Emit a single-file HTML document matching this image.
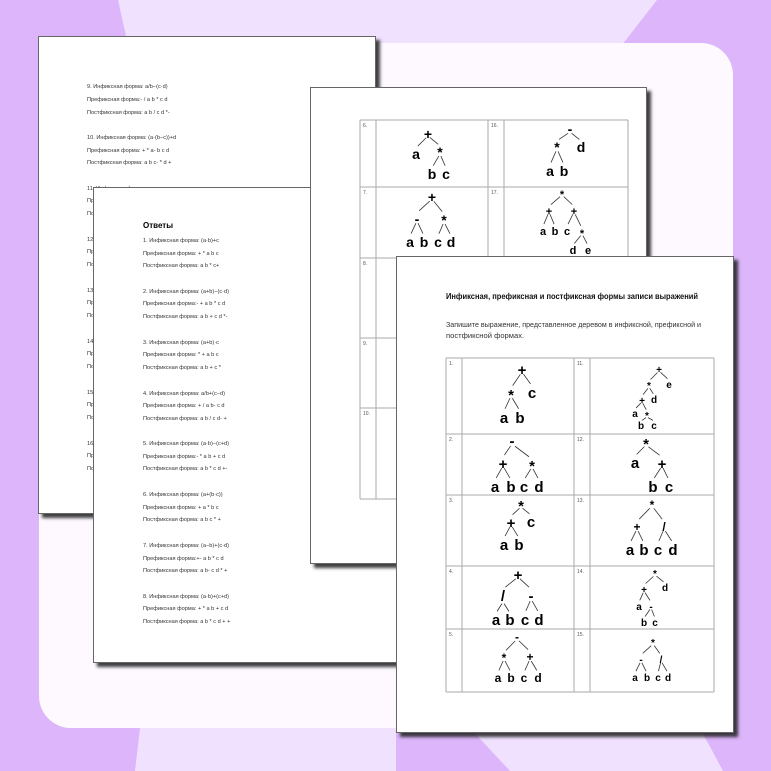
<!DOCTYPE html>
<html><head><meta charset="utf-8">
<style>
html,body{margin:0;padding:0}
body{width:771px;height:771px;position:relative;overflow:hidden;background:#dcb5fa;font-family:"Liberation Sans",sans-serif}
.pg{position:absolute;background:#fff;overflow:hidden;box-shadow:4px 4px 3px rgba(30,30,30,.85);border:1px solid #666;box-sizing:border-box}
.pg svg{position:absolute}
text{font-family:"Liberation Sans",sans-serif}
.s{font-size:5.6px;fill:#333}
.n{font-size:5px;fill:#555}
.t{font-weight:bold;fill:#000;text-anchor:middle}
.g line{stroke:#aaa;stroke-width:1}
.e line{stroke:#333;stroke-width:.8}
</style></head><body>
<svg width="771" height="771" style="position:absolute;left:0;top:0">
<polygon points="118,0 657,0 622,45 128,45" fill="#f0e1ff"/>
<rect x="39" y="43" width="694" height="685" rx="32" fill="#fdf9ff"/>
<polygon points="140,728 396,728 396,771 135,771" fill="#f0e1ff"/>
<polygon points="470,728 700,728 723,771 510,771" fill="#f0e1ff"/>
</svg>

<!-- Page A -->
<div class="pg" style="left:38px;top:36px;width:338px;height:478px">
<svg width="771" height="771" style="left:-38px;top:-36px">
<g class="s">
<text x="86" y="87">9. Инфиксная форма: a/b−(c·d)</text>
<text x="86" y="100">Префиксная форма:- / a b * c d</text>
<text x="86" y="113">Постфиксная форма: a b / c d *-</text>
<text x="86" y="138">10. Инфиксная форма: (a·(b−c))+d</text>
<text x="86" y="151">Префиксная форма: + * a- b c d</text>
<text x="86" y="163">Постфиксная форма: a b c- * d +</text>
<text x="86" y="189">11. Инфиксная форма</text><text x="86" y="201">Префиксная</text><text x="86" y="214">Постфиксная</text>
<text x="86" y="240">12. Инфиксная</text><text x="86" y="252">Префиксная</text><text x="86" y="265">Постфиксная</text>
<text x="86" y="291">13. Инфиксная</text><text x="86" y="303">Префиксная</text><text x="86" y="316">Постфиксная</text>
<text x="86" y="342">14. Инфиксная</text><text x="86" y="354">Префиксная</text><text x="86" y="367">Постфиксная</text>
<text x="86" y="393">15. Инфиксная</text><text x="86" y="405">Префиксная</text><text x="86" y="418">Постфиксная</text>
<text x="86" y="444">16. Инфиксная</text><text x="86" y="456">Префиксная</text><text x="86" y="469">Постфиксная</text>
</g></svg></div>

<!-- Page C -->
<div class="pg" style="left:93px;top:187px;width:330px;height:476px">
<svg width="771" height="771" style="left:-93px;top:-187px">
<text x="142" y="227" style="font-size:8px;font-weight:bold">Ответы</text>
<g class="s">
<text x="142" y="241">1. Инфиксная форма: (a·b)+c</text><text x="142" y="254">Префиксная форма: + * a b c</text><text x="142" y="266">Постфиксная форма: a b * c+</text>
<text x="142" y="292">2. Инфиксная форма: (a+b)−(c·d)</text><text x="142" y="304">Префиксная форма:- + a b * c d</text><text x="142" y="317">Постфиксная форма: a b + c d *-</text>
<text x="142" y="343">3. Инфиксная форма: (a+b)·c</text><text x="142" y="355">Префиксная форма: * + a b c</text><text x="142" y="368">Постфиксная форма: a b + c *</text>
<text x="142" y="394">4. Инфиксная форма: a/b+(c−d)</text><text x="142" y="406">Префиксная форма: + / a b- c d</text><text x="142" y="419">Постфиксная форма: a b / c d- +</text>
<text x="142" y="444">5. Инфиксная форма: (a·b)−(c+d)</text><text x="142" y="457">Префиксная форма:- * a b + c d</text><text x="142" y="469">Постфиксная форма: a b * c d +-</text>
<text x="142" y="495">6. Инфиксная форма: (a+(b·c))</text><text x="142" y="508">Префиксная форма: + a * b c</text><text x="142" y="520">Постфиксная форма: a b c * +</text>
<text x="142" y="546">7. Инфиксная форма: (a−b)+(c·d)</text><text x="142" y="559">Префиксная форма:+- a b * c d</text><text x="142" y="571">Постфиксная форма: a b- c d * +</text>
<text x="142" y="597">8. Инфиксная форма: (a·b)+(c+d)</text><text x="142" y="609">Префиксная форма: + * a b + c d</text><text x="142" y="622">Постфиксная форма: a b * c d + +</text>
</g></svg></div>

<!-- Page B -->
<div class="pg" style="left:310px;top:87px;width:337px;height:477px">
<svg width="771" height="771" style="left:-310px;top:-87px">
<g class="g">
<line x1="359" y1="119" x2="627" y2="119"/><line x1="359" y1="186" x2="627" y2="186"/><line x1="359" y1="257" x2="627" y2="257"/>
<line x1="359" y1="337" x2="627" y2="337"/><line x1="359" y1="407" x2="627" y2="407"/><line x1="359" y1="498" x2="627" y2="498"/>
<line x1="359" y1="119" x2="359" y2="498"/><line x1="375" y1="119" x2="375" y2="498"/><line x1="487" y1="119" x2="487" y2="498"/><line x1="503" y1="119" x2="503" y2="498"/><line x1="627" y1="119" x2="627" y2="498"/>
</g>
<g class="n"><text x="362" y="126">6.</text><text x="490" y="126">16.</text><text x="362" y="193">7.</text><text x="490" y="193">17.</text><text x="362" y="264">8.</text><text x="362" y="344">9.</text><text x="362" y="414">10.</text></g>
<g class="t" style="font-size:14px">
<text x="427" y="138">+</text><text x="415" y="158">a</text><text x="439" y="156">*</text><text x="431" y="178">b</text><text x="445" y="178">c</text>
<text x="569" y="133">-</text><text x="556" y="151">*</text><text x="580" y="151">d</text><text x="549" y="175">a</text><text x="563" y="175">b</text>
<text x="431" y="201">+</text><text x="416" y="223">-</text><text x="443" y="224">*</text><text x="409" y="246">a</text><text x="423" y="246">b</text><text x="437" y="246">c</text><text x="450" y="246">d</text>
</g>
<g class="t" style="font-size:11px">
<text x="561" y="197">*</text><text x="548" y="214">+</text><text x="573" y="214">+</text><text x="542" y="234">a</text><text x="554" y="234">b</text><text x="566" y="234">c</text><text x="581" y="236">*</text><text x="572" y="253">d</text><text x="587" y="253">e</text>
</g>
<g class="e" id="eB"></g>
</svg></div>

<!-- Page D -->
<div class="pg" style="left:396px;top:256px;width:338px;height:477px">
<svg width="771" height="771" style="left:-396px;top:-256px">
<text x="445" y="298" textLength="252" lengthAdjust="spacingAndGlyphs" style="font-size:8px;font-weight:bold;fill:#111">Инфиксная, префиксная и постфиксная формы записи выражений</text>
<text x="445" y="326" textLength="255" lengthAdjust="spacingAndGlyphs" style="font-size:7.6px;fill:#333">Запишите выражение, представленное деревом в инфиксной, префиксной и</text>
<text x="445" y="337" style="font-size:7.6px;fill:#333">постфиксной формах.</text>
<g class="g">
<line x1="445" y1="357" x2="713" y2="357"/><line x1="445" y1="433" x2="713" y2="433"/><line x1="445" y1="494" x2="713" y2="494"/>
<line x1="445" y1="565" x2="713" y2="565"/><line x1="445" y1="628" x2="713" y2="628"/><line x1="445" y1="691" x2="713" y2="691"/>
<line x1="445" y1="357" x2="445" y2="691"/><line x1="461" y1="357" x2="461" y2="691"/><line x1="573" y1="357" x2="573" y2="691"/><line x1="589" y1="357" x2="589" y2="691"/><line x1="713" y1="357" x2="713" y2="691"/>
</g>
<g class="n"><text x="448" y="364">1.</text><text x="576" y="364">11.</text><text x="448" y="440">2.</text><text x="576" y="440">12.</text><text x="448" y="501">3.</text><text x="576" y="501">13.</text><text x="448" y="572">4.</text><text x="576" y="572">14.</text><text x="448" y="635">5.</text><text x="576" y="635">15.</text></g>
<g class="t" style="font-size:15px">
<text x="521" y="374">+</text><text x="510" y="399">*</text><text x="531" y="397">c</text><text x="503" y="422">a</text><text x="519" y="422">b</text>
<text x="511" y="445">-</text><text x="502" y="468">+</text><text x="531" y="470">*</text><text x="494" y="491">a</text><text x="510" y="491">b</text><text x="523" y="491">c</text><text x="538" y="491">d</text>
<text x="645" y="448">*</text><text x="634" y="467">a</text><text x="661" y="468">+</text><text x="652" y="491">b</text><text x="668" y="491">c</text>
<text x="520" y="510">*</text><text x="510" y="527">+</text><text x="530" y="526">c</text><text x="503" y="549">a</text><text x="518" y="549">b</text>
<text x="517" y="579">+</text><text x="502" y="600">/</text><text x="530" y="600">-</text><text x="495" y="624">a</text><text x="509" y="624">b</text><text x="524" y="624">c</text><text x="538" y="624">d</text>
<text x="629" y="554">a</text><text x="643" y="554">b</text><text x="657" y="554">c</text><text x="672" y="554">d</text>
</g>
<g class="t" style="font-size:12px">
<text x="651" y="508">*</text><text x="636" y="530">+</text><text x="663" y="530">/</text>
<text x="516" y="640">-</text><text x="503" y="661">*</text><text x="529" y="660">+</text><text x="497" y="681">a</text><text x="510" y="681">b</text><text x="523" y="681">c</text><text x="537" y="681">d</text>
</g>
<g class="t" style="font-size:10px">
<text x="658" y="372">+</text><text x="648" y="388">*</text><text x="668" y="387">e</text><text x="641" y="403">+</text><text x="653" y="402">d</text><text x="634" y="416">a</text><text x="646" y="418">*</text><text x="640" y="428">b</text><text x="653" y="428">c</text>
<text x="654" y="576">*</text><text x="643" y="592">+</text><text x="664" y="590">d</text><text x="638" y="609">a</text><text x="650" y="609">-</text><text x="643" y="625">b</text><text x="654" y="625">c</text>
<text x="652" y="645">*</text><text x="640" y="662">-</text><text x="660" y="662">/</text><text x="634" y="680">a</text><text x="646" y="680">b</text><text x="657" y="680">c</text><text x="667" y="680">d</text>
</g>
<g class="e" id="eD"></g>
</svg></div>

<script>
function draw(id,E){var g=document.getElementById(id),s='';E.forEach(function(e){var px=e[0],py=e[1],cx=e[2],cy=e[3],f=e[4]||15;var ax=px,ay=py+1,bx=cx,by=cy-f*0.8;var x1=ax+(bx-ax)*0.15,y1=ay+(by-ay)*0.15,x2=ax+(bx-ax)*0.85,y2=ay+(by-ay)*0.85;s+='<line x1="'+x1+'" y1="'+y1+'" x2="'+x2+'" y2="'+y2+'"/>';});g.innerHTML=s;}
draw('eB',[[427,134,415,158,14],[427,134,439,156,14],[439,152,431,178,14],[439,152,445,178,14],
[569,130,556,151,14],[569,130,580,151,14],[556,147,549,175,14],[556,147,563,175,14],
[431,197,416,223,14],[431,197,443,224,14],[416,219,409,246,14],[416,219,423,246,14],[443,220,437,246,14],[443,220,450,246,14],
[561,193,548,214,11],[561,193,573,214,11],[548,210,542,234,11],[548,210,554,234,11],[573,210,566,234,11],[573,210,581,236,11],[581,232,572,253,11],[581,232,587,253,11]]);
draw('eD',[[521,370,510,399],[521,370,531,397],[510,394,503,422],[510,394,519,422],
[511,442,502,468],[511,442,531,470],[502,464,494,491],[502,464,510,491],[531,465,523,491],[531,465,538,491],
[645,443,634,467],[645,443,661,468],[661,464,652,491],[661,464,668,491],
[520,505,510,527],[520,505,530,526],[510,523,503,549],[510,523,518,549],
[517,575,502,600],[517,575,530,600],[502,600,495,624],[502,600,509,624],[530,597,524,624],[530,597,538,624],
[651,504,636,530,12],[651,504,663,530,12],[636,527,629,554],[636,527,643,554],[663,527,657,554],[663,527,672,554],
[516,637,503,661,12],[516,637,529,660,12],[503,657,497,681,12],[503,657,510,681,12],[529,657,523,681,12],[529,657,537,681,12],
[658,369,648,388,10],[658,369,668,387,10],[648,385,641,403,10],[648,385,653,402,10],[641,400,634,416,10],[641,400,646,418,10],[646,415,640,428,10],[646,415,653,428,10],
[654,573,643,592,10],[654,573,664,590,10],[643,589,638,609,10],[643,589,650,609,10],[650,606,643,625,10],[650,606,654,625,10],
[652,642,640,662,10],[652,642,660,662,10],[640,659,634,680,10],[640,659,646,680,10],[660,659,657,680,10],[660,659,667,680,10]]);
</script>
</body></html>
